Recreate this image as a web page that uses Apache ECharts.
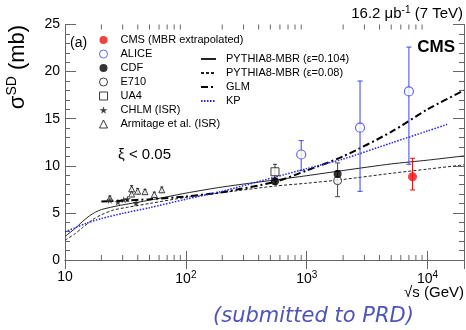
<!DOCTYPE html>
<html>
<head>
<meta charset="utf-8">
<script src="https://cdn.jsdelivr.net/npm/echarts@6/dist/echarts.min.js"></script>
<style>html,body{margin:0;padding:0;background:#fff}#c{width:466px;height:330px}</style>
</head>
<body>
<div id="c"></div>
<script>
// ---------- data ----------
const cmsX = [7500];            const cmsY = [8.84];  const cmsLo = [7.43]; const cmsHi = [10.8];
const aliceX = [900, 2760, 7000]; const aliceY = [11.2, 14.05, 17.9];
const aliceLo = [9.48, 7.29, 10.16]; const aliceHi = [12.67, 19.0, 22.6];
const cdfX = [546, 1800];       const cdfY = [8.35, 9.13]; const cdfLo = [8.05, 8.8]; const cdfHi = [8.65, 9.5];
const e710X = [1800];           const e710Y = [8.42]; const e710Lo = [6.72]; const e710Hi = [10.3];
const ua4X = [546];             const ua4Y = [9.37];  const ua4Lo = [8.6];  const ua4Hi = [10.16];
const chlmX = [23.5, 27.4, 30.6, 32.8, 38.7];
const chlmY = [6.35, 6.15, 6.4, 6.47, 6.05];
const armX = [23.5, 35.6, 35.6, 39.9, 45.9, 54.8, 63.2];
const armY = [6.55, 7.55, 7.0, 7.3, 7.25, 6.95, 7.45];
const armLo = [6.3, 7.25, 6.75, 7.05, 7.0, 6.7, 7.2];
const armHi = [6.8, 7.9, 7.25, 7.6, 7.5, 7.2, 7.75];

const mbr104X = [10, 12, 14, 16, 18, 20, 25, 30, 50, 100, 200, 546, 1000, 2000, 5000, 10000, 20000];
const mbr104Y = [2.5, 3.3, 4.1, 4.7, 5.1, 5.35, 5.65, 5.85, 6.35, 7.1, 7.75, 8.5, 8.95, 9.5, 10.2, 10.6, 11.05];
const mbr08X = [10, 12, 14, 17, 20, 25, 33, 50, 100, 200, 546, 1000, 2000, 5000, 10000, 20000];
const mbr08Y = [2.1, 2.75, 3.45, 4.3, 4.8, 5.3, 5.6, 6.0, 6.65, 7.15, 7.85, 8.15, 8.55, 9.2, 9.65, 10.1];
const glmX = [20, 30, 50, 100, 200, 546, 1000, 2000, 5000, 10000, 20000];
const glmY = [6.2, 6.3, 6.45, 6.75, 7.2, 8.3, 9.5, 11.0, 13.6, 16.0, 18.0];
const kpX = [10, 12, 15, 20, 30, 50, 100, 200, 546, 1000, 2000, 5000, 10000, 14500];
const kpY = [3.0, 3.4, 3.9, 4.4, 4.95, 5.55, 6.45, 7.3, 8.8, 9.7, 10.72, 12.42, 13.7, 14.4];

const xMin = 10, xMax = 20000, yMin = 0, yMax = 25;
const yTickStep = 5;
const xMinorTicks = [20,30,40,50,60,70,80,90,200,300,400,500,600,700,800,900,2000,3000,4000,5000,6000,7000,8000,9000];

// ---------- helpers ----------
const zip = (xs, ys) => xs.map((x, i) => [x, ys[i]]);
const zip3 = (xs, a, b) => xs.map((x, i) => [x, a[i], b[i]]);
const FONT = 'Liberation Sans, Arial, sans-serif';
const BLUE = '#3a44f0';
const STAR = 'path://M50,0 L61,35 L98,35 L68,57 L79,91 L50,70 L21,91 L32,57 L2,35 L39,35 Z';

function errSeries(name, xs, lo, hi, color, cap) {
  return {
    type: 'custom', name: name + '_err', data: zip3(xs, lo, hi), z: 3, clip: true,
    encode: { x: 0, y: [1, 2] }, silent: true, legendHoverLink: false,
    renderItem: function (params, api) {
      const a = api.coord([api.value(0), api.value(1)]);
      const b = api.coord([api.value(0), api.value(2)]);
      const st = { stroke: color, lineWidth: 1 };
      return { type: 'group', children: [
        { type: 'line', shape: { x1: a[0], y1: a[1], x2: b[0], y2: b[1] }, style: st },
        { type: 'line', shape: { x1: a[0] - cap, y1: a[1], x2: a[0] + cap, y2: a[1] }, style: st },
        { type: 'line', shape: { x1: b[0] - cap, y1: b[1], x2: b[0] + cap, y2: b[1] }, style: st }
      ]};
    }
  };
}

const axisCommon = {
  type: 'log', logBase: 10, min: xMin, max: xMax,
  axisLine: { show: true, lineStyle: { color: '#666', width: 1 } },
  axisTick: { show: true, inside: true, length: 9, lineStyle: { color: '#666' } },
  splitLine: { show: false }, minorTick: { show: false }, minorSplitLine: { show: false }
};

const chart = echarts.init(document.getElementById('c'), null, { renderer: 'canvas' });
const option = {
  animation: false,
  backgroundColor: '#fff',
  grid: { left: 65, right: 2, top: 24.5, bottom: 70, containLabel: false, outerBoundsMode: 'none' },
  xAxis: [
    Object.assign({}, axisCommon, {
      position: 'bottom',
      axisLabel: {
        show: true, margin: 10, color: '#000', showMaxLabel: false,
        formatter: function (v) {
          const e = Math.round(Math.log10(v));
          if (Math.abs(Math.log10(v) - e) > 1e-6) return '';
          if (e === 1) return '{b|10}';
          return '{b|10}{s|' + e + '}';
        },
        rich: { b: { fontFamily: FONT, fontSize: 14, color: '#000' },
                s: { fontFamily: FONT, fontSize: 10, color: '#000', verticalAlign: 'bottom', padding: [0, 0, 8, 0] } }
      }
    }),
    Object.assign({}, axisCommon, { position: 'top', axisLabel: { show: false } })
  ],
  yAxis: [
    { type: 'value', min: yMin, max: yMax, interval: yTickStep, position: 'left',
      axisLine: { show: true, lineStyle: { color: '#666' } },
      axisTick: { show: true, inside: true, length: 11, lineStyle: { color: '#666' } },
      minorTick: { show: true, splitNumber: 5, length: 5, lineStyle: { color: '#666' } },
      splitLine: { show: false },
      axisLabel: { color: '#000', fontFamily: FONT, fontSize: 14, margin: 5 } },
    { type: 'value', min: yMin, max: yMax, interval: yTickStep, position: 'right',
      axisLine: { show: true, lineStyle: { color: '#666' } },
      axisTick: { show: true, inside: true, length: 11, lineStyle: { color: '#666' } },
      minorTick: { show: true, splitNumber: 5, length: 5, lineStyle: { color: '#666' } },
      splitLine: { show: false }, axisLabel: { show: false } }
  ],
  legend: [
    { orient: 'vertical', left: 99, top: 34, padding: 0, itemWidth: 8, itemHeight: 8, itemGap: 2,
      selectedMode: false, itemStyle: { borderWidth: 1 },
      textStyle: { fontFamily: FONT, fontSize: 11, color: '#000', lineHeight: 12, padding: [0, 0, 0, 8] },
      data: ['CMS (MBR extrapolated)', 'ALICE', 'CDF', 'E710', 'UA4',
             { name: 'CHLM (ISR)' }, { name: 'Armitage et al. (ISR)' }] },
    { orient: 'vertical', left: 200, top: 53, padding: 0, itemWidth: 15, itemHeight: 8, itemGap: 2,
      selectedMode: false, itemStyle: { opacity: 0 },
      textStyle: { fontFamily: FONT, fontSize: 11, color: '#000', lineHeight: 12, padding: [0, 0, 0, 5] },
      data: ['PYTHIA8-MBR (ε=0.104)', 'PYTHIA8-MBR (ε=0.08)', 'GLM', 'KP'] }
  ],
  series: [
    { type: 'line', name: 'PYTHIA8-MBR (ε=0.104)', data: zip(mbr104X, mbr104Y), symbol: 'none', smooth: 0.25,
      lineStyle: { color: '#222', width: 1, type: 'solid' }, itemStyle: { color: '#222' }, z: 2 },
    { type: 'line', name: 'PYTHIA8-MBR (ε=0.08)', data: zip(mbr08X, mbr08Y), symbol: 'none', smooth: 0.25,
      lineStyle: { color: '#222', width: 1, type: [3, 2] }, itemStyle: { color: '#222' }, z: 2 },
    { type: 'line', name: 'GLM', data: zip(glmX, glmY), symbol: 'none', smooth: 0.25,
      lineStyle: { color: '#000', width: 2, type: [7, 3, 2, 3] }, itemStyle: { color: '#000' }, z: 2 },
    { type: 'line', name: 'KP', data: zip(kpX, kpY), symbol: 'none', smooth: 0.25,
      lineStyle: { color: '#2222ff', width: 1.5, type: [1.5, 1.5] }, itemStyle: { color: '#2222ff' }, z: 2 },

    errSeries('CMS', cmsX, cmsLo, cmsHi, '#ee1111', 2.5),
    errSeries('ALICE', aliceX, aliceLo, aliceHi, BLUE, 2.5),
    errSeries('CDF', cdfX, cdfLo, cdfHi, '#333', 2),
    errSeries('E710', e710X, e710Lo, e710Hi, '#444', 2.5),
    errSeries('UA4', ua4X, ua4Lo, ua4Hi, '#333', 2),
    errSeries('Armitage', armX, armLo, armHi, '#333', 1.5),

    { type: 'scatter', name: 'Armitage et al. (ISR)', data: zip(armX, armY), symbol: 'triangle', symbolSize: 6, z: 5,
      itemStyle: { color: '#fff', borderColor: '#111', borderWidth: 1 } },
    { type: 'scatter', name: 'CHLM (ISR)', data: zip(chlmX, chlmY), symbol: STAR, symbolSize: 7, z: 5,
      itemStyle: { color: '#111' } },
    { type: 'scatter', name: 'UA4', data: zip(ua4X, ua4Y), symbol: 'rect', symbolSize: 8, z: 5,
      itemStyle: { color: '#fff', borderColor: '#111', borderWidth: 1 } },
    { type: 'scatter', name: 'E710', data: zip(e710X, e710Y), symbol: 'circle', symbolSize: 8, z: 5,
      itemStyle: { color: '#fff', borderColor: '#111', borderWidth: 1 } },
    { type: 'scatter', name: 'CDF', data: zip(cdfX, cdfY), symbol: 'circle', symbolSize: 8, z: 6,
      itemStyle: { color: '#000' } },
    { type: 'scatter', name: 'ALICE', data: zip(aliceX, aliceY), symbol: 'circle', symbolSize: 9, z: 5,
      itemStyle: { color: '#fff', borderColor: BLUE, borderWidth: 1.2 } },
    { type: 'scatter', name: 'CMS (MBR extrapolated)', data: zip(cmsX, cmsY), symbol: 'circle', symbolSize: 9, z: 6,
      itemStyle: { color: '#ee1111' } }
  ]
};
chart.setOption(option);

// texts + minor log ticks (positions via the library's own scales)
const y0 = chart.convertToPixel({ yAxisIndex: 0 }, yMin);
const y1 = chart.convertToPixel({ yAxisIndex: 0 }, yMax);
const els = [];
xMinorTicks.forEach(function (v) {
  const px = chart.convertToPixel({ xAxisIndex: 0 }, v);
  els.push({ type: 'line', silent: true, shape: { x1: px, y1: y0, x2: px, y2: y0 - 5 }, style: { stroke: '#666', lineWidth: 1 } });
  els.push({ type: 'line', silent: true, shape: { x1: px, y1: y1, x2: px, y2: y1 + 5 }, style: { stroke: '#666', lineWidth: 1 } });
});
els.push({ type: 'text', x: 18, y: 67, rotation: Math.PI / 2,
  style: { text: '{a|σ}{b|SD}{a| (mb)}', align: 'center', verticalAlign: 'middle',
    rich: { a: { fontFamily: FONT, fontSize: 22, fill: '#000', color: '#000' },
            b: { fontFamily: FONT, fontSize: 14, fill: '#000', color: '#000', verticalAlign: 'bottom', padding: [0, 0, 12, 0] } } } });
els.push({ type: 'text', x: 463, y: 14,
  style: { text: '16.2 {a|μb}{s|-1} (7 TeV)', align: 'right', verticalAlign: 'middle', font: '15px ' + FONT, fill: '#000',
    rich: { a: { fontFamily: FONT, fontSize: 15, fill: '#000', color: '#000' },
            s: { fontFamily: FONT, fontSize: 10, fill: '#000', color: '#000', verticalAlign: 'bottom', padding: [0, 0, 8, 0] } } } });
els.push({ type: 'text', x: 455, y: 47, style: { text: 'CMS', align: 'right', verticalAlign: 'middle', font: 'bold 17px ' + FONT, fill: '#000' } });
els.push({ type: 'text', x: 70, y: 43, style: { text: '(a)', align: 'left', verticalAlign: 'middle', font: '14px ' + FONT, fill: '#000' } });
els.push({ type: 'text', x: 118, y: 155, style: { text: 'ξ < 0.05', align: 'left', verticalAlign: 'middle', font: '15px ' + FONT, fill: '#000' } });
els.push({ type: 'text', x: 464, y: 293, style: { text: '√s (GeV)', align: 'right', verticalAlign: 'middle', font: '15px ' + FONT, fill: '#000' } });
els.push({ type: 'text', x: 213, y: 317, style: { text: '(submitted to PRD)', align: 'left', verticalAlign: 'middle', font: 'italic 21px DejaVu Sans, sans-serif', fill: '#4f54bd' } });
chart.setOption({ graphic: { elements: els } });
</script>
</body>
</html>
